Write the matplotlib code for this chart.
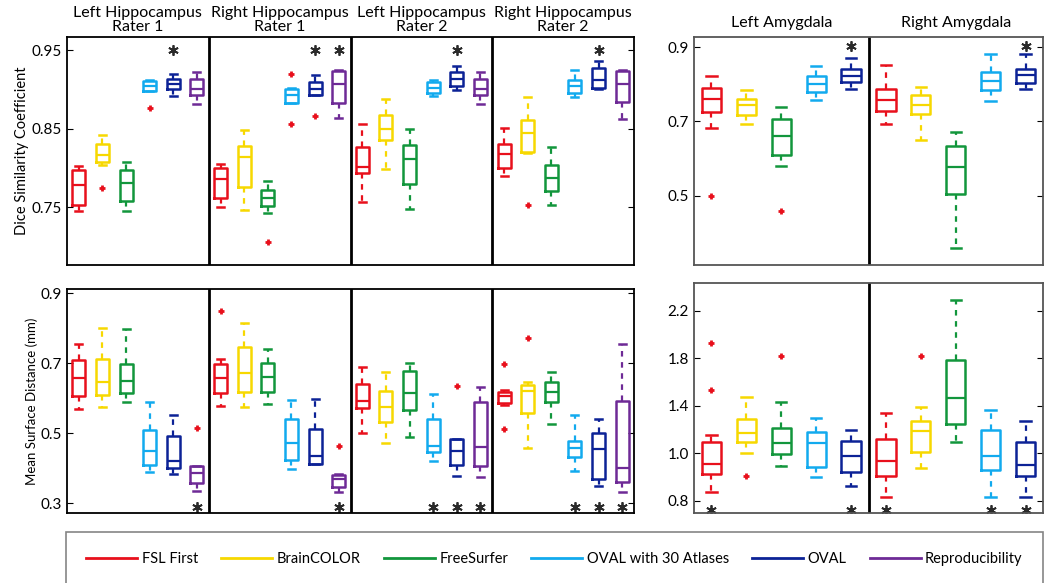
import numpy as np
import matplotlib
matplotlib.use("Agg")
import matplotlib.pyplot as plt
from matplotlib.lines import Line2D
from matplotlib.transforms import blended_transform_factory

plt.rcParams["font.family"] = ["Lato", "DejaVu Sans"]

methods = ["FSL First", "BrainCOLOR", "FreeSurfer", "OVAL with 30 Atlases", "OVAL", "Reproducibility"]
colors = ["#e8101c", "#f7d800", "#12963c", "#12aaee", "#0c2296", "#6e2a96"]

hip_titles = ["Left Hippocampus\nRater 1", "Right Hippocampus\nRater 1",
              "Left Hippocampus\nRater 2", "Right Hippocampus\nRater 2"]
amy_titles = ["Left Amygdala", "Right Amygdala"]

# box stats: (whisker low, q1, median, q3, whisker high)
dsc_hip = [
    (0.745, 0.753, 0.778, 0.797, 0.802), (0.803, 0.807, 0.817, 0.830, 0.842),
    (0.745, 0.758, 0.781, 0.797, 0.807), (0.898, 0.898, 0.904, 0.911, 0.912),
    (0.892, 0.901, 0.907, 0.913, 0.920), (0.882, 0.893, 0.900, 0.913, 0.922),
    (0.750, 0.762, 0.786, 0.800, 0.805), (0.746, 0.776, 0.814, 0.828, 0.848),
    (0.742, 0.751, 0.762, 0.772, 0.783), (0.883, 0.883, 0.893, 0.901, 0.902),
    (0.893, 0.893, 0.901, 0.910, 0.919), (0.863, 0.883, 0.907, 0.924, 0.925),
    (0.756, 0.793, 0.801, 0.827, 0.856), (0.798, 0.836, 0.850, 0.868, 0.888),
    (0.748, 0.779, 0.811, 0.829, 0.849), (0.892, 0.896, 0.902, 0.910, 0.912),
    (0.899, 0.905, 0.914, 0.922, 0.930), (0.882, 0.893, 0.900, 0.913, 0.922),
    (0.790, 0.800, 0.818, 0.830, 0.851), (0.819, 0.820, 0.845, 0.861, 0.890),
    (0.753, 0.770, 0.787, 0.803, 0.826), (0.890, 0.896, 0.905, 0.912, 0.925),
    (0.901, 0.902, 0.912, 0.927, 0.937), (0.862, 0.884, 0.907, 0.923, 0.925),
]
dsc_hip_out = [[], [0.774], [], [0.876], [], [],
               [], [], [0.705], [0.920, 0.856], [0.866], [],
               [], [], [], [], [], [],
               [], [0.753], [], [], [], []]
dsc_hip_star = [5, 11, 12, 17, 23]

msd_hip = [
    (0.569, 0.605, 0.659, 0.710, 0.754), (0.574, 0.608, 0.646, 0.711, 0.802),
    (0.588, 0.614, 0.650, 0.697, 0.798), (0.388, 0.410, 0.448, 0.510, 0.588),
    (0.384, 0.402, 0.421, 0.491, 0.551), (0.335, 0.357, 0.386, 0.405, 0.407),
    (0.578, 0.616, 0.657, 0.697, 0.711), (0.576, 0.619, 0.673, 0.745, 0.816),
    (0.584, 0.619, 0.660, 0.700, 0.741), (0.397, 0.424, 0.471, 0.540, 0.595),
    (0.412, 0.412, 0.435, 0.512, 0.598), (0.331, 0.345, 0.369, 0.381, 0.383),
    (0.502, 0.571, 0.593, 0.641, 0.688), (0.473, 0.531, 0.576, 0.622, 0.676),
    (0.488, 0.567, 0.614, 0.679, 0.700), (0.422, 0.445, 0.464, 0.540, 0.612),
    (0.379, 0.410, 0.450, 0.483, 0.483), (0.376, 0.407, 0.462, 0.588, 0.631),
    (0.581, 0.586, 0.605, 0.619, 0.624), (0.457, 0.557, 0.622, 0.638, 0.646),
    (0.527, 0.588, 0.619, 0.646, 0.674), (0.391, 0.431, 0.457, 0.479, 0.551),
    (0.350, 0.369, 0.454, 0.502, 0.541), (0.331, 0.362, 0.400, 0.591, 0.755),
]
msd_hip_out = [[], [], [], [], [], [0.516],
               [0.850], [], [], [], [], [0.464],
               [], [], [], [], [0.635], [],
               [0.697, 0.511], [0.771], [], [], [], []]
msd_hip_star = [6, 12, 16, 17, 18, 22, 23, 24]

dsc_amy = [
    (0.681, 0.726, 0.759, 0.790, 0.821), (0.692, 0.717, 0.745, 0.761, 0.784),
    (0.581, 0.611, 0.660, 0.706, 0.739), (0.757, 0.779, 0.800, 0.821, 0.848),
    (0.786, 0.806, 0.821, 0.840, 0.871),
    (0.694, 0.728, 0.757, 0.786, 0.853), (0.651, 0.719, 0.745, 0.772, 0.793),
    (0.360, 0.504, 0.578, 0.634, 0.672), (0.755, 0.784, 0.809, 0.833, 0.880),
    (0.786, 0.803, 0.824, 0.842, 0.882),
]
dsc_amy_out = [[0.499], [], [0.459], [], [], [], [], [], [], []]
dsc_amy_star = [5, 10]

msd_amy = [
    (0.676, 0.826, 0.907, 1.098, 1.154), (1.005, 1.098, 1.168, 1.287, 1.478),
    (0.893, 0.994, 1.084, 1.216, 1.436), (0.803, 0.882, 1.084, 1.177, 1.295),
    (0.727, 0.840, 0.977, 1.104, 1.197),
    (0.634, 0.811, 0.935, 1.118, 1.343), (0.879, 1.014, 1.188, 1.275, 1.393),
    (1.098, 1.247, 1.464, 1.787, 2.293), (0.634, 0.859, 0.980, 1.197, 1.365),
    (0.634, 0.811, 0.901, 1.098, 1.272),
]
msd_amy_out = [[1.933, 1.534], [0.809], [1.823], [], [], [], [1.821], [], [], []]
msd_amy_star = [1, 5, 6, 9, 10]

msd_amy_ticks = [0.6, 1.0, 1.4, 1.8, 2.2]
msd_amy_ticklabels = ["0.8", "1.0", "1.4", "1.8", "2.2"]


def draw_boxes(ax, stats, outliers, n_methods, frame_color):
    bxp_stats = []
    for (lo, q1, med, q3, hi), out in zip(stats, outliers):
        bxp_stats.append(dict(whislo=lo, q1=q1, med=med, q3=q3, whishi=hi, fliers=out))
    pos = np.arange(1, len(stats) + 1)
    art = ax.bxp(bxp_stats, positions=pos, widths=0.55, capwidths=0.3,
                 showfliers=True, manage_ticks=False,
                 boxprops=dict(lw=1.8), medianprops=dict(lw=1.6),
                 whiskerprops=dict(lw=1.6, ls=(0, (2.5, 2.5))), capprops=dict(lw=1.8),
                 flierprops=dict(marker="+", markeredgecolor="#e8101c", markersize=5, mew=2))
    for i in range(len(stats)):
        c = colors[i % n_methods]
        art["boxes"][i].set_color(c)
        art["medians"][i].set_color(c)
        for k in (2 * i, 2 * i + 1):
            art["whiskers"][k].set_color(c)
            art["caps"][k].set_color(c)
    n_panels = len(stats) // n_methods
    for p in range(1, n_panels):
        ax.axvline(p * n_methods + 0.5, color="black", lw=2)
    ax.set_xlim(0.5, len(stats) + 0.5)
    ax.set_xticks([])
    ax.tick_params(axis="y", direction="in", right=True, length=4, labelsize=11)
    for s in ax.spines.values():
        s.set_color(frame_color)
        s.set_linewidth(1.3)


def draw_stars(ax, idx, y):
    ax.plot(idx, [y] * len(idx), ls="none", marker=(6, 2, 0), ms=7.5, mew=1.3, color="#2a2a2a")


fig = plt.figure(figsize=(10.5, 5.83), dpi=100)

ax_dh = fig.add_axes([67 / 1050, 1 - 265 / 583, 567 / 1050, 228 / 583])
ax_mh = fig.add_axes([67 / 1050, 1 - 513 / 583, 567 / 1050, 224 / 583])
ax_da = fig.add_axes([694 / 1050, 1 - 265 / 583, 349 / 1050, 228 / 583])
ax_ma = fig.add_axes([694 / 1050, 1 - 513 / 583, 349 / 1050, 230 / 583])

draw_boxes(ax_dh, dsc_hip, dsc_hip_out, 6, "black")
draw_stars(ax_dh, dsc_hip_star, 0.95)
ax_dh.set_ylim(0.676, 0.967)
ax_dh.set_yticks([0.75, 0.85, 0.95])
ax_dh.set_ylabel("Dice Similarity Coefficient", fontsize=10.5, labelpad=2)

draw_boxes(ax_mh, msd_hip, msd_hip_out, 6, "black")
draw_stars(ax_mh, msd_hip_star, 0.29)
ax_mh.set_ylim(0.272, 0.912)
ax_mh.set_yticks([0.3, 0.5, 0.7, 0.9])
ax_mh.set_ylabel("Mean Surface Distance (mm)", fontsize=9.5, labelpad=2)

draw_boxes(ax_da, dsc_amy, dsc_amy_out, 5, "#555555")
draw_stars(ax_da, dsc_amy_star, 0.904)
ax_da.set_ylim(0.314, 0.927)
ax_da.set_yticks([0.5, 0.7, 0.9])

draw_boxes(ax_ma, msd_amy, msd_amy_out, 5, "#555555")
draw_stars(ax_ma, msd_amy_star, 0.52)
ax_ma.set_ylim(0.496, 2.436)
ax_ma.set_yticks(msd_amy_ticks)
ax_ma.set_yticklabels(msd_amy_ticklabels)

for ax, titles, n, yt in [(ax_dh, hip_titles, 6, 1.012), (ax_da, amy_titles, 5, 1.03)]:
    tr = blended_transform_factory(ax.transData, ax.transAxes)
    for p, t in enumerate(titles):
        ax.text(p * n + (n + 1) / 2, yt, t, transform=tr, ha="center", va="bottom",
                fontsize=11.5, linespacing=1.05)

handles = [Line2D([], [], color=c, lw=2) for c in colors]
leg = fig.legend(handles, methods, loc="upper left", ncol=6, mode="expand",
                 bbox_to_anchor=(66 / 1050, -0.2, 977 / 1050, 0.2 + 1 - 532 / 583),
                 borderaxespad=0, fontsize=10.5, handlelength=3.5, handletextpad=0.3,
                 borderpad=1.4, fancybox=False, frameon=True)
leg.get_frame().set_edgecolor("#666666")
leg.get_frame().set_linewidth(1.2)

fig.savefig("out.png", dpi=100)
